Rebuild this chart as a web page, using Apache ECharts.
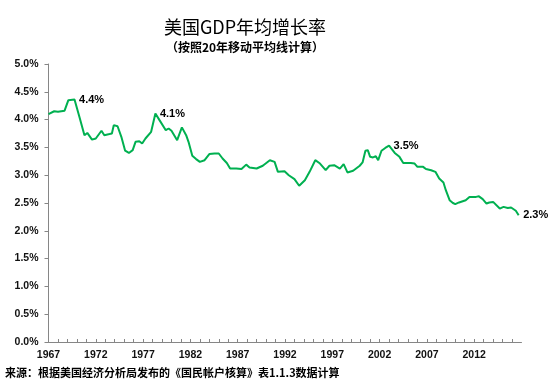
<!DOCTYPE html>
<html>
<head>
<meta charset="utf-8">
<script src="https://cdn.jsdelivr.net/npm/echarts@6/dist/echarts.min.js"></script>
<style>
html,body{margin:0;padding:0;background:#fff;}
#c{width:550px;height:384px;}
</style>
</head>
<body>
<div id="c"></div>
<script>
// time (year, fractional) and 20-year moving average growth (%)
var years = [1967.0,1967.6,1968.0,1968.7,1969.1,1969.75,1969.85,1970.3,1970.8,1971.1,1971.6,1972.0,1972.6,1972.9,1973.45,1973.7,1973.9,1974.3,1974.7,1975.1,1975.5,1975.9,1976.2,1976.6,1976.9,1977.25,1977.85,1978.3,1978.7,1979.4,1979.7,1980.0,1980.6,1981.1,1981.55,1981.8,1982.2,1982.6,1983.0,1983.5,1984.0,1984.55,1985.0,1985.4,1985.85,1986.2,1986.85,1987.4,1987.9,1988.25,1989.0,1989.1,1989.65,1990.4,1990.9,1991.25,1991.95,1992.4,1993.0,1993.5,1994.1,1994.6,1995.2,1995.7,1996.3,1996.7,1997.2,1997.8,1998.2,1998.6,1999.2,1999.9,2000.2,2000.5,2000.75,2001.0,2001.3,2001.6,2001.85,2002.2,2002.6,2003.0,2003.2,2003.6,2004.1,2004.5,2005.3,2005.7,2006.0,2006.6,2006.9,2007.45,2007.9,2008.3,2008.75,2009.0,2009.4,2009.75,2010.0,2010.4,2010.6,2011.1,2011.5,2012.2,2012.5,2012.9,2013.3,2013.6,2014.0,2014.7,2015.1,2015.55,2015.9,2016.4,2016.7];
var growth = [4.10,4.15,4.14,4.16,4.35,4.36,4.35,4.03,3.72,3.76,3.64,3.66,3.80,3.72,3.74,3.75,3.90,3.88,3.69,3.44,3.40,3.45,3.60,3.61,3.57,3.66,3.78,4.11,4.00,3.81,3.84,3.80,3.63,3.86,3.72,3.60,3.35,3.29,3.24,3.27,3.38,3.39,3.39,3.30,3.22,3.12,3.12,3.11,3.19,3.14,3.12,3.14,3.17,3.27,3.24,3.06,3.07,3.00,2.93,2.81,2.91,3.06,3.27,3.21,3.09,3.17,3.18,3.12,3.20,3.05,3.08,3.17,3.23,3.44,3.45,3.33,3.32,3.34,3.27,3.44,3.49,3.53,3.51,3.40,3.33,3.22,3.22,3.21,3.15,3.15,3.11,3.09,3.06,2.94,2.87,2.73,2.55,2.50,2.48,2.51,2.49,2.55,2.61,2.61,2.62,2.57,2.49,2.51,2.52,2.40,2.43,2.41,2.42,2.36,2.28];
// indices of annotated points
var labelIdx = [5, 27, 81, 114];
var xLabelYears = [1967,1972,1977,1982,1987,1992,1997,2002,2007,2012];
var titleText = '美国GDP年均增长率';
var subtitleText = '（按照20年移动平均线计算）';
var sourceText = '来源：根据美国经济分析局发布的《国民帐户核算》表1.1.3数据计算';

var lineData = years.map(function(y,i){return [y, growth[i]];});
var labelData = labelIdx.map(function(i){return [years[i], growth[i]];});

var numFont = "'Liberation Sans Narrow','Liberation Sans',Arial,sans-serif";
var cjkFont = "'Noto Sans CJK SC','Noto Sans',sans-serif";

var chart = echarts.init(document.getElementById('c'), null, {renderer:'canvas'});
chart.setOption({
  animation:false,
  backgroundColor:'#fff',
  grid:{left:48.5, right:28.5, top:64, bottom:42, containLabel:false},
  xAxis:{
    type:'value', min:1967, max:2017, interval:1,
    axisLine:{show:true, lineStyle:{color:'#868686', width:1}},
    axisTick:{show:true, inside:true, length:3, lineStyle:{color:'#868686'}},
    splitLine:{show:false},
    axisLabel:{
      margin:8, color:'#111', fontFamily:numFont, fontWeight:'bold', fontSize:10.5,
      showMinLabel:true, showMaxLabel:false,
      formatter:function(v){ return xLabelYears.indexOf(v) >= 0 ? String(v) : ''; }
    }
  },
  yAxis:{
    type:'value', min:0, max:5, interval:0.5,
    axisLine:{show:true, lineStyle:{color:'#868686', width:1}},
    axisTick:{show:true, inside:false, length:4, lineStyle:{color:'#868686'}},
    splitLine:{show:false},
    axisLabel:{
      margin:10, color:'#111', fontFamily:numFont, fontWeight:'bold', fontSize:10.5,
      formatter:function(v){ return v.toFixed(1) + '%'; }
    }
  },
  series:[
    {
      type:'line', data:lineData, showSymbol:false, symbol:'none',
      lineStyle:{color:'#00B050', width:2}, itemStyle:{color:'#00B050'}, z:2
    },
    {
      type:'scatter', data:labelData, symbolSize:1,
      itemStyle:{color:'rgba(0,0,0,0)'},
      label:{
        show:true, position:'right', distance:4, color:'#000',
        fontFamily:numFont, fontSize:11, fontWeight:'bold', opacity:1,
        formatter:function(p){ return p.value[1].toFixed(1) + '%'; }
      }, z:3
    }
  ],
  graphic:[
    {type:'text', x:245, y:27, style:{text:titleText, align:'center', verticalAlign:'middle', fill:'#000', font:"normal 18px " + cjkFont}},
    {type:'text', x:245, y:47, style:{text:subtitleText, align:'center', verticalAlign:'middle', fill:'#000', font:"bold 12px " + cjkFont}},
    {type:'text', x:5, y:373, style:{text:sourceText, align:'left', verticalAlign:'middle', fill:'#000', font:"bold 11px " + cjkFont}}
  ]
});
</script>
</body>
</html>
